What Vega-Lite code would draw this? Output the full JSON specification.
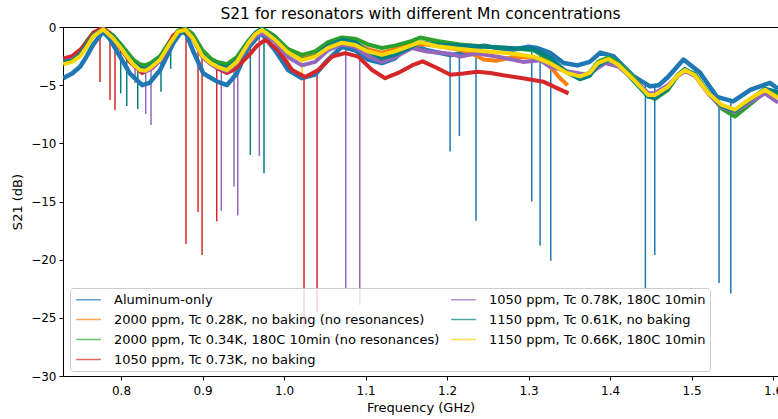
{
"$schema": "https://vega.github.io/schema/vega-lite/v6.json",
"width": 715,
"height": 349,
"autosize": {"type": "none"},
"padding": {"left": 63, "top": 27, "right": 0, "bottom": 43},
"background": "white",
"title": {"text": "S21 for resonators with different Mn concentrations", "fontSize": 15.5, "fontWeight": "normal", "font": "DejaVu Sans", "color": "black", "offset": -1},
"config": {
  "font": "DejaVu Sans",
  "view": {"stroke": "black", "strokeWidth": 1},
  "axis": {"domainColor": "black", "tickColor": "black", "tickSize": 4, "labelColor": "black", "labelFontSize": 12, "titleFontSize": 13, "titleFontWeight": "normal", "titleColor": "black", "grid": false, "labelPadding": 3, "labelFont": "DejaVu Sans", "titleFont": "DejaVu Sans"},
  "legend": {"labelFont": "DejaVu Sans"}
},
"datasets": {
  "names": [
    {"k": "A", "name": "Aluminum-only"},
    {"k": "O", "name": "2000 ppm, Tc 0.28K, no baking (no resonances)"},
    {"k": "G", "name": "2000 ppm, Tc 0.34K, 180C 10min (no resonances)"},
    {"k": "R", "name": "1050 ppm, Tc 0.73K, no baking"},
    {"k": "P", "name": "1050 ppm, Tc 0.78K, 180C 10min"},
    {"k": "T", "name": "1150 ppm, Tc 0.61K, no baking"},
    {"k": "Y", "name": "1150 ppm, Tc 0.66K, 180C 10min"}
  ],
  "curves": [
    {"k":"A","f":0.729,"v":-4.4},{"k":"A","f":0.74,"v":-4.0},{"k":"A","f":0.75,"v":-3.4},{"k":"A","f":0.758,"v":-2.5},{"k":"A","f":0.766,"v":-1.5},{"k":"A","f":0.778,"v":-0.4},{"k":"A","f":0.786,"v":-1.0},{"k":"A","f":0.795,"v":-2.1},{"k":"A","f":0.811,"v":-4.0},{"k":"A","f":0.826,"v":-5.0},{"k":"A","f":0.835,"v":-4.8},{"k":"A","f":0.848,"v":-3.7},{"k":"A","f":0.864,"v":-1.4},{"k":"A","f":0.874,"v":-0.4},{"k":"A","f":0.88,"v":-0.6},{"k":"A","f":0.888,"v":-2.0},{"k":"A","f":0.901,"v":-4.0},{"k":"A","f":0.918,"v":-4.7},{"k":"A","f":0.93,"v":-5.0},{"k":"A","f":0.942,"v":-4.0},{"k":"A","f":0.956,"v":-1.8},{"k":"A","f":0.972,"v":-0.5},{"k":"A","f":0.989,"v":-2.0},{"k":"A","f":1.005,"v":-3.7},{"k":"A","f":1.022,"v":-4.4},{"k":"A","f":1.038,"v":-4.1},{"k":"A","f":1.054,"v":-2.8},{"k":"A","f":1.071,"v":-1.7},{"k":"A","f":1.087,"v":-2.0},{"k":"A","f":1.103,"v":-2.8},{"k":"A","f":1.12,"v":-3.1},{"k":"A","f":1.136,"v":-2.7},{"k":"A","f":1.155,"v":-1.4},{"k":"A","f":1.175,"v":-2.0},{"k":"A","f":1.204,"v":-2.4},{"k":"A","f":1.216,"v":-2.3},{"k":"A","f":1.245,"v":-1.6},{"k":"A","f":1.277,"v":-2.0},{"k":"A","f":1.3,"v":-1.7},{"k":"A","f":1.31,"v":-1.8},{"k":"A","f":1.326,"v":-2.2},{"k":"A","f":1.343,"v":-3.1},{"k":"A","f":1.36,"v":-3.3},{"k":"A","f":1.375,"v":-3.0},{"k":"A","f":1.388,"v":-2.2},{"k":"A","f":1.404,"v":-2.5},{"k":"A","f":1.428,"v":-4.2},{"k":"A","f":1.449,"v":-5.1},{"k":"A","f":1.46,"v":-5.0},{"k":"A","f":1.471,"v":-4.3},{"k":"A","f":1.49,"v":-2.8},{"k":"A","f":1.51,"v":-3.9},{"k":"A","f":1.531,"v":-6.0},{"k":"A","f":1.551,"v":-6.4},{"k":"A","f":1.572,"v":-5.4},{"k":"A","f":1.596,"v":-4.8},{"k":"A","f":1.606,"v":-5.3},
    {"k":"O","f":0.729,"v":-3.0},{"k":"O","f":0.74,"v":-2.8},{"k":"O","f":0.75,"v":-2.2},{"k":"O","f":0.758,"v":-1.4},{"k":"O","f":0.766,"v":-0.6},{"k":"O","f":0.778,"v":-0.15},{"k":"O","f":0.79,"v":-0.8},{"k":"O","f":0.8,"v":-1.6},{"k":"O","f":0.807,"v":-2.3},{"k":"O","f":0.815,"v":-3.0},{"k":"O","f":0.823,"v":-3.4},{"k":"O","f":0.83,"v":-3.5},{"k":"O","f":0.836,"v":-3.3},{"k":"O","f":0.848,"v":-2.6},{"k":"O","f":0.86,"v":-1.3},{"k":"O","f":0.87,"v":-0.35},{"k":"O","f":0.879,"v":-0.2},{"k":"O","f":0.888,"v":-0.8},{"k":"O","f":0.9,"v":-2.3},{"k":"O","f":0.91,"v":-2.9},{"k":"O","f":0.918,"v":-3.2},{"k":"O","f":0.93,"v":-3.5},{"k":"O","f":0.942,"v":-2.8},{"k":"O","f":0.956,"v":-1.3},{"k":"O","f":0.965,"v":-0.5},{"k":"O","f":0.973,"v":-0.2},{"k":"O","f":0.98,"v":-0.5},{"k":"O","f":0.989,"v":-1.0},{"k":"O","f":1.005,"v":-2.1},{"k":"O","f":1.022,"v":-2.7},{"k":"O","f":1.038,"v":-2.4},{"k":"O","f":1.054,"v":-1.6},{"k":"O","f":1.071,"v":-1.2},{"k":"O","f":1.087,"v":-1.4},{"k":"O","f":1.103,"v":-1.9},{"k":"O","f":1.12,"v":-2.2},{"k":"O","f":1.136,"v":-1.9},{"k":"O","f":1.157,"v":-1.5},{"k":"O","f":1.175,"v":-1.5},{"k":"O","f":1.204,"v":-1.8},{"k":"O","f":1.225,"v":-2.1},{"k":"O","f":1.245,"v":-2.8},{"k":"O","f":1.26,"v":-2.9},{"k":"O","f":1.28,"v":-2.6},{"k":"O","f":1.3,"v":-2.6},{"k":"O","f":1.318,"v":-2.8},{"k":"O","f":1.33,"v":-3.7},{"k":"O","f":1.34,"v":-4.5},{"k":"O","f":1.348,"v":-5.0},
    {"k":"G","f":0.729,"v":-2.9},{"k":"G","f":0.74,"v":-2.7},{"k":"G","f":0.75,"v":-2.1},{"k":"G","f":0.758,"v":-1.2},{"k":"G","f":0.766,"v":-0.5},{"k":"G","f":0.778,"v":-0.15},{"k":"G","f":0.79,"v":-0.7},{"k":"G","f":0.8,"v":-1.5},{"k":"G","f":0.807,"v":-2.1},{"k":"G","f":0.815,"v":-2.8},{"k":"G","f":0.823,"v":-3.2},{"k":"G","f":0.83,"v":-3.3},{"k":"G","f":0.836,"v":-3.1},{"k":"G","f":0.848,"v":-2.5},{"k":"G","f":0.86,"v":-1.2},{"k":"G","f":0.87,"v":-0.3},{"k":"G","f":0.879,"v":-0.15},{"k":"G","f":0.888,"v":-0.6},{"k":"G","f":0.9,"v":-2.0},{"k":"G","f":0.91,"v":-2.7},{"k":"G","f":0.918,"v":-3.0},{"k":"G","f":0.93,"v":-3.2},{"k":"G","f":0.942,"v":-2.6},{"k":"G","f":0.956,"v":-1.2},{"k":"G","f":0.965,"v":-0.5},{"k":"G","f":0.973,"v":-0.15},{"k":"G","f":0.98,"v":-0.4},{"k":"G","f":0.989,"v":-0.8},{"k":"G","f":1.005,"v":-1.9},{"k":"G","f":1.022,"v":-2.4},{"k":"G","f":1.038,"v":-2.1},{"k":"G","f":1.054,"v":-1.3},{"k":"G","f":1.071,"v":-0.9},{"k":"G","f":1.087,"v":-1.0},{"k":"G","f":1.103,"v":-1.5},{"k":"G","f":1.12,"v":-1.8},{"k":"G","f":1.136,"v":-1.6},{"k":"G","f":1.157,"v":-1.2},{"k":"G","f":1.167,"v":-0.9},{"k":"G","f":1.188,"v":-1.2},{"k":"G","f":1.216,"v":-1.5},{"k":"G","f":1.249,"v":-1.7},{"k":"G","f":1.277,"v":-1.8},{"k":"G","f":1.306,"v":-2.0},{"k":"G","f":1.326,"v":-2.8},{"k":"G","f":1.347,"v":-3.9},{"k":"G","f":1.363,"v":-4.4},{"k":"G","f":1.375,"v":-3.9},{"k":"G","f":1.385,"v":-3.0},{"k":"G","f":1.398,"v":-2.6},{"k":"G","f":1.41,"v":-3.1},{"k":"G","f":1.427,"v":-4.2},{"k":"G","f":1.447,"v":-5.8},{"k":"G","f":1.455,"v":-6.2},{"k":"G","f":1.471,"v":-5.4},{"k":"G","f":1.483,"v":-4.2},{"k":"G","f":1.492,"v":-3.7},{"k":"G","f":1.504,"v":-4.0},{"k":"G","f":1.52,"v":-5.6},{"k":"G","f":1.537,"v":-7.0},{"k":"G","f":1.553,"v":-7.7},{"k":"G","f":1.569,"v":-6.8},{"k":"G","f":1.59,"v":-5.6},{"k":"G","f":1.606,"v":-5.8},
    {"k":"R","f":0.729,"v":-2.7},{"k":"R","f":0.74,"v":-2.5},{"k":"R","f":0.75,"v":-1.95},{"k":"R","f":0.758,"v":-1.3},{"k":"R","f":0.766,"v":-0.5},{"k":"R","f":0.777,"v":-0.05},{"k":"R","f":0.786,"v":-0.5},{"k":"R","f":0.795,"v":-1.4},{"k":"R","f":0.811,"v":-3.0},{"k":"R","f":0.826,"v":-3.95},{"k":"R","f":0.839,"v":-3.5},{"k":"R","f":0.851,"v":-2.6},{"k":"R","f":0.864,"v":-0.7},{"k":"R","f":0.876,"v":-0.25},{"k":"R","f":0.888,"v":-0.95},{"k":"R","f":0.901,"v":-2.6},{"k":"R","f":0.918,"v":-3.55},{"k":"R","f":0.93,"v":-3.95},{"k":"R","f":0.94,"v":-3.6},{"k":"R","f":0.956,"v":-2.5},{"k":"R","f":0.967,"v":-1.6},{"k":"R","f":0.977,"v":-1.1},{"k":"R","f":0.993,"v":-2.0},{"k":"R","f":1.01,"v":-3.7},{"k":"R","f":1.026,"v":-4.3},{"k":"R","f":1.042,"v":-3.7},{"k":"R","f":1.059,"v":-2.55},{"k":"R","f":1.075,"v":-2.25},{"k":"R","f":1.091,"v":-2.55},{"k":"R","f":1.108,"v":-3.7},{"k":"R","f":1.124,"v":-4.4},{"k":"R","f":1.14,"v":-3.95},{"k":"R","f":1.157,"v":-3.3},{"k":"R","f":1.17,"v":-2.95},{"k":"R","f":1.187,"v":-3.5},{"k":"R","f":1.204,"v":-4.1},{"k":"R","f":1.22,"v":-4.0},{"k":"R","f":1.237,"v":-3.85},{"k":"R","f":1.253,"v":-3.95},{"k":"R","f":1.269,"v":-4.15},{"k":"R","f":1.293,"v":-4.4},{"k":"R","f":1.318,"v":-4.7},{"k":"R","f":1.335,"v":-5.25},{"k":"R","f":1.349,"v":-5.7},
    {"k":"P","f":0.729,"v":-3.0},{"k":"P","f":0.74,"v":-2.8},{"k":"P","f":0.75,"v":-2.3},{"k":"P","f":0.758,"v":-1.5},{"k":"P","f":0.766,"v":-0.7},{"k":"P","f":0.778,"v":-0.2},{"k":"P","f":0.79,"v":-0.9},{"k":"P","f":0.8,"v":-1.8},{"k":"P","f":0.807,"v":-2.5},{"k":"P","f":0.815,"v":-3.2},{"k":"P","f":0.823,"v":-3.7},{"k":"P","f":0.83,"v":-3.8},{"k":"P","f":0.836,"v":-3.6},{"k":"P","f":0.848,"v":-2.9},{"k":"P","f":0.86,"v":-1.5},{"k":"P","f":0.87,"v":-0.5},{"k":"P","f":0.879,"v":-0.3},{"k":"P","f":0.888,"v":-1.0},{"k":"P","f":0.9,"v":-2.6},{"k":"P","f":0.91,"v":-3.2},{"k":"P","f":0.918,"v":-3.5},{"k":"P","f":0.93,"v":-3.8},{"k":"P","f":0.942,"v":-3.1},{"k":"P","f":0.956,"v":-1.5},{"k":"P","f":0.965,"v":-0.8},{"k":"P","f":0.973,"v":-0.5},{"k":"P","f":0.98,"v":-0.8},{"k":"P","f":0.989,"v":-1.3},{"k":"P","f":1.005,"v":-2.6},{"k":"P","f":1.022,"v":-3.3},{"k":"P","f":1.038,"v":-3.0},{"k":"P","f":1.054,"v":-2.0},{"k":"P","f":1.071,"v":-1.5},{"k":"P","f":1.087,"v":-1.7},{"k":"P","f":1.103,"v":-2.5},{"k":"P","f":1.12,"v":-3.0},{"k":"P","f":1.136,"v":-2.6},{"k":"P","f":1.157,"v":-1.8},{"k":"P","f":1.175,"v":-2.1},{"k":"P","f":1.204,"v":-2.3},{"k":"P","f":1.216,"v":-2.55},{"k":"P","f":1.237,"v":-2.25},{"k":"P","f":1.269,"v":-2.65},{"k":"P","f":1.293,"v":-3.0},{"k":"P","f":1.314,"v":-2.85},{"k":"P","f":1.326,"v":-3.4},{"k":"P","f":1.347,"v":-3.8},{"k":"P","f":1.363,"v":-4.0},{"k":"P","f":1.373,"v":-4.1},{"k":"P","f":1.394,"v":-3.1},{"k":"P","f":1.41,"v":-3.4},{"k":"P","f":1.427,"v":-4.4},{"k":"P","f":1.447,"v":-5.7},{"k":"P","f":1.455,"v":-5.7},{"k":"P","f":1.471,"v":-5.0},{"k":"P","f":1.483,"v":-4.2},{"k":"P","f":1.492,"v":-3.8},{"k":"P","f":1.504,"v":-4.2},{"k":"P","f":1.52,"v":-5.7},{"k":"P","f":1.537,"v":-6.9},{"k":"P","f":1.553,"v":-7.3},{"k":"P","f":1.569,"v":-6.6},{"k":"P","f":1.59,"v":-5.7},{"k":"P","f":1.606,"v":-6.5},
    {"k":"T","f":0.729,"v":-3.0},{"k":"T","f":0.74,"v":-2.9},{"k":"T","f":0.75,"v":-2.3},{"k":"T","f":0.758,"v":-1.5},{"k":"T","f":0.766,"v":-0.7},{"k":"T","f":0.778,"v":-0.2},{"k":"T","f":0.79,"v":-0.8},{"k":"T","f":0.8,"v":-1.7},{"k":"T","f":0.807,"v":-2.4},{"k":"T","f":0.815,"v":-3.1},{"k":"T","f":0.823,"v":-3.5},{"k":"T","f":0.83,"v":-3.6},{"k":"T","f":0.836,"v":-3.4},{"k":"T","f":0.848,"v":-2.7},{"k":"T","f":0.86,"v":-1.4},{"k":"T","f":0.87,"v":-0.5},{"k":"T","f":0.879,"v":-0.3},{"k":"T","f":0.888,"v":-0.9},{"k":"T","f":0.9,"v":-2.4},{"k":"T","f":0.91,"v":-3.0},{"k":"T","f":0.918,"v":-3.3},{"k":"T","f":0.93,"v":-3.5},{"k":"T","f":0.942,"v":-2.9},{"k":"T","f":0.956,"v":-1.3},{"k":"T","f":0.965,"v":-0.5},{"k":"T","f":0.973,"v":-0.15},{"k":"T","f":0.98,"v":-0.5},{"k":"T","f":0.989,"v":-1.0},{"k":"T","f":1.005,"v":-2.2},{"k":"T","f":1.022,"v":-2.8},{"k":"T","f":1.038,"v":-2.5},{"k":"T","f":1.054,"v":-1.6},{"k":"T","f":1.071,"v":-1.1},{"k":"T","f":1.087,"v":-1.3},{"k":"T","f":1.103,"v":-2.1},{"k":"T","f":1.12,"v":-2.7},{"k":"T","f":1.136,"v":-2.4},{"k":"T","f":1.157,"v":-1.7},{"k":"T","f":1.167,"v":-1.3},{"k":"T","f":1.188,"v":-1.5},{"k":"T","f":1.216,"v":-1.6},{"k":"T","f":1.249,"v":-1.7},{"k":"T","f":1.277,"v":-1.8},{"k":"T","f":1.306,"v":-1.9},{"k":"T","f":1.326,"v":-2.6},{"k":"T","f":1.347,"v":-3.9},{"k":"T","f":1.363,"v":-4.5},{"k":"T","f":1.375,"v":-4.2},{"k":"T","f":1.385,"v":-3.3},{"k":"T","f":1.398,"v":-2.8},{"k":"T","f":1.41,"v":-3.2},{"k":"T","f":1.427,"v":-4.5},{"k":"T","f":1.447,"v":-6.0},{"k":"T","f":1.455,"v":-6.1},{"k":"T","f":1.471,"v":-5.3},{"k":"T","f":1.483,"v":-4.1},{"k":"T","f":1.492,"v":-3.6},{"k":"T","f":1.504,"v":-4.1},{"k":"T","f":1.52,"v":-5.6},{"k":"T","f":1.537,"v":-6.8},{"k":"T","f":1.553,"v":-7.2},{"k":"T","f":1.569,"v":-6.4},{"k":"T","f":1.59,"v":-5.3},{"k":"T","f":1.606,"v":-5.6},
    {"k":"Y","f":0.729,"v":-3.2},{"k":"Y","f":0.74,"v":-3.0},{"k":"Y","f":0.75,"v":-2.5},{"k":"Y","f":0.758,"v":-1.7},{"k":"Y","f":0.766,"v":-0.8},{"k":"Y","f":0.778,"v":-0.2},{"k":"Y","f":0.79,"v":-0.95},{"k":"Y","f":0.8,"v":-1.8},{"k":"Y","f":0.807,"v":-2.5},{"k":"Y","f":0.815,"v":-3.2},{"k":"Y","f":0.823,"v":-3.7},{"k":"Y","f":0.83,"v":-3.75},{"k":"Y","f":0.836,"v":-3.5},{"k":"Y","f":0.848,"v":-2.8},{"k":"Y","f":0.86,"v":-1.4},{"k":"Y","f":0.87,"v":-0.4},{"k":"Y","f":0.879,"v":-0.25},{"k":"Y","f":0.888,"v":-0.95},{"k":"Y","f":0.9,"v":-2.5},{"k":"Y","f":0.91,"v":-3.1},{"k":"Y","f":0.918,"v":-3.4},{"k":"Y","f":0.93,"v":-3.7},{"k":"Y","f":0.942,"v":-3.0},{"k":"Y","f":0.956,"v":-1.4},{"k":"Y","f":0.965,"v":-0.6},{"k":"Y","f":0.973,"v":-0.25},{"k":"Y","f":0.98,"v":-0.6},{"k":"Y","f":0.989,"v":-1.1},{"k":"Y","f":1.005,"v":-2.2},{"k":"Y","f":1.022,"v":-2.85},{"k":"Y","f":1.038,"v":-2.55},{"k":"Y","f":1.054,"v":-1.8},{"k":"Y","f":1.071,"v":-1.35},{"k":"Y","f":1.087,"v":-1.55},{"k":"Y","f":1.103,"v":-2.1},{"k":"Y","f":1.12,"v":-2.4},{"k":"Y","f":1.136,"v":-2.1},{"k":"Y","f":1.157,"v":-1.55},{"k":"Y","f":1.167,"v":-1.3},{"k":"Y","f":1.188,"v":-1.65},{"k":"Y","f":1.216,"v":-1.9},{"k":"Y","f":1.249,"v":-2.1},{"k":"Y","f":1.277,"v":-2.25},{"k":"Y","f":1.306,"v":-2.55},{"k":"Y","f":1.326,"v":-3.1},{"k":"Y","f":1.347,"v":-3.95},{"k":"Y","f":1.363,"v":-4.25},{"k":"Y","f":1.375,"v":-3.95},{"k":"Y","f":1.385,"v":-3.1},{"k":"Y","f":1.398,"v":-2.75},{"k":"Y","f":1.41,"v":-3.25},{"k":"Y","f":1.427,"v":-4.4},{"k":"Y","f":1.447,"v":-5.85},{"k":"Y","f":1.455,"v":-5.85},{"k":"Y","f":1.471,"v":-5.15},{"k":"Y","f":1.483,"v":-4.15},{"k":"Y","f":1.492,"v":-3.7},{"k":"Y","f":1.504,"v":-4.15},{"k":"Y","f":1.52,"v":-5.65},{"k":"Y","f":1.537,"v":-6.7},{"k":"Y","f":1.553,"v":-7.1},{"k":"Y","f":1.569,"v":-6.3},{"k":"Y","f":1.59,"v":-5.4},{"k":"Y","f":1.606,"v":-6.1}
  ],
  "dips": [
    {"k":"A","f":1.2037,"t":-2.4,"b":-10.7},{"k":"A","f":1.2151,"t":-2.3,"b":-9.37},{"k":"A","f":1.2355,"t":-1.7,"b":-16.65},{"k":"A","f":1.3039,"t":-1.7,"b":-15.0},{"k":"A","f":1.3141,"t":-1.8,"b":-18.8},{"k":"A","f":1.3272,"t":-2.2,"b":-20.1},{"k":"A","f":1.4433,"t":-5.0,"b":-22.6},{"k":"A","f":1.4548,"t":-5.1,"b":-19.6},{"k":"A","f":1.5337,"t":-6.1,"b":-22.0},{"k":"A","f":1.5481,"t":-6.3,"b":-22.9},
    {"k":"R","f":0.7742,"t":-0.6,"b":-4.73},{"k":"R","f":0.7865,"t":-0.5,"b":-6.28},{"k":"R","f":0.7926,"t":-0.9,"b":-7.14},{"k":"R","f":0.8797,"t":-0.3,"b":-18.66},{"k":"R","f":0.8945,"t":-1.7,"b":-15.9},{"k":"R","f":0.8994,"t":-2.4,"b":-19.6},{"k":"R","f":0.9174,"t":-3.5,"b":-16.7},{"k":"R","f":1.0245,"t":-4.2,"b":-25.8},{"k":"R","f":1.0405,"t":-3.8,"b":-24.5},
    {"k":"P","f":0.8172,"t":-3.2,"b":-4.82},{"k":"P","f":0.8303,"t":-3.8,"b":-7.48},{"k":"P","f":0.8368,"t":-3.6,"b":-8.43},{"k":"P","f":0.923,"t":-3.5,"b":-15.8},{"k":"P","f":0.9386,"t":-3.3,"b":-13.7},{"k":"P","f":0.9432,"t":-3.0,"b":-16.2},{"k":"P","f":0.9697,"t":-0.5,"b":-11.1},{"k":"P","f":1.0757,"t":-1.5,"b":-22.5},{"k":"P","f":1.0929,"t":-1.8,"b":-23.9},
    {"k":"T","f":0.7996,"t":-1.7,"b":-5.7},{"k":"T","f":0.807,"t":-2.4,"b":-6.79},{"k":"T","f":0.8205,"t":-3.5,"b":-7.05},{"k":"T","f":0.849,"t":-2.7,"b":-5.56},{"k":"T","f":0.8609,"t":-1.4,"b":-3.6},{"k":"T","f":0.9586,"t":-1.2,"b":-11.0},{"k":"T","f":0.9754,"t":-0.2,"b":-12.6},
    {"k":"Y","f":1.005,"t":-2.2,"b":-3.3},{"k":"Y","f":1.022,"t":-2.85,"b":-4.2}
  ]
},
"encoding": {
  "x": {"field": "f", "type": "quantitative", "scale": {"domain": [0.7288, 1.606], "nice": false, "zero": false},
        "axis": {"values": [0.8, 0.9, 1.0, 1.1, 1.2, 1.3, 1.4, 1.5, 1.6], "format": ".1f", "title": "Frequency (GHz)", "labelPadding": 5, "titlePadding": 5}},
  "color": {"field": "name", "type": "nominal",
    "scale": {"domain": ["Aluminum-only", "1050 ppm, Tc 0.78K, 180C 10min", "2000 ppm, Tc 0.28K, no baking (no resonances)", "1150 ppm, Tc 0.61K, no baking", "2000 ppm, Tc 0.34K, 180C 10min (no resonances)", "1150 ppm, Tc 0.66K, 180C 10min", "1050 ppm, Tc 0.73K, no baking"],
              "range": ["#1f77b4", "#9467bd", "#ff7f0e", "#008080", "#2ca02c", "#ffd700", "#d62728"]},
    "legend": {"title": null, "orient": "none", "legendX": 7, "legendY": 261, "columns": 2, "direction": "horizontal", "symbolType": "M-1.9,0L1.9,0", "symbolSize": 169, "symbolStrokeWidth": 1.5, "symbolOpacity": 0.7, "symbolOffset": 7, "labelFontSize": 13, "labelColor": "black", "labelLimit": 500, "labelOffset": 18, "fillColor": "rgba(255,255,255,0.8)", "strokeColor": "#cccccc", "cornerRadius": 3, "padding": 4, "rowPadding": 5, "columnPadding": 8}}
},
"layer": [
  {
    "data": {"name": "dips"},
    "transform": [{"lookup": "k", "from": {"data": {"name": "names"}, "key": "k", "fields": ["name"]}}],
    "mark": {"type": "rule", "strokeWidth": 1.5, "clip": true},
    "encoding": {
      "y": {"field": "t", "type": "quantitative"},
      "y2": {"field": "b"}
    }
  },
  {
    "data": {"name": "curves"},
    "transform": [{"lookup": "k", "from": {"data": {"name": "names"}, "key": "k", "fields": ["name"]}}],
    "encoding": {
      "y": {"field": "v", "type": "quantitative", "scale": {"domain": [-30, 0], "nice": false, "zero": false},
            "axis": {"values": [0, -5, -10, -15, -20, -25, -30], "format": "d", "title": "S21 (dB)", "titlePadding": 6}}
    },
    "layer": [
      {"transform": [{"filter": {"field": "k", "equal": "A"}}], "mark": {"type": "line", "strokeWidth": 4.5, "clip": true, "strokeJoin": "round"}},
      {"transform": [{"filter": {"field": "k", "equal": "O"}}], "mark": {"type": "line", "strokeWidth": 4, "clip": true, "strokeJoin": "round"}},
      {"transform": [{"filter": {"field": "k", "equal": "G"}}], "mark": {"type": "line", "strokeWidth": 4, "clip": true, "strokeJoin": "round"}},
      {"transform": [{"filter": {"field": "k", "equal": "R"}}], "mark": {"type": "line", "strokeWidth": 4, "clip": true, "strokeJoin": "round"}},
      {"transform": [{"filter": {"field": "k", "equal": "P"}}], "mark": {"type": "line", "strokeWidth": 4, "clip": true, "strokeJoin": "round"}},
      {"transform": [{"filter": {"field": "k", "equal": "T"}}], "mark": {"type": "line", "strokeWidth": 4, "clip": true, "strokeJoin": "round"}},
      {"transform": [{"filter": {"field": "k", "equal": "Y"}}], "mark": {"type": "line", "strokeWidth": 4, "clip": true, "strokeJoin": "round"}}
    ]
  }
]
}
